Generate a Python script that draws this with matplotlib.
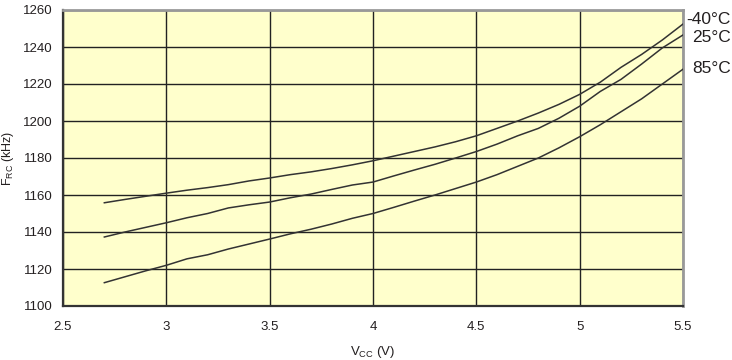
import matplotlib
matplotlib.use("Agg")
import matplotlib.pyplot as plt

plt.rcParams['font.family'] = ['Liberation Sans', 'DejaVu Sans']
plt.rcParams['mathtext.fontset'] = 'custom'
plt.rcParams['mathtext.rm'] = 'Liberation Sans'
plt.rcParams['mathtext.it'] = 'Liberation Sans'
plt.rcParams['mathtext.default'] = 'regular'

vcc = [2.7, 2.8, 2.9, 3.0, 3.1, 3.2, 3.3, 3.4, 3.5, 3.6, 3.7, 3.8, 3.9, 4.0,
       4.1, 4.2, 4.3, 4.4, 4.5, 4.6, 4.7, 4.8, 4.9, 5.0, 5.1, 5.2, 5.3, 5.4, 5.5]
f_m40 = [1155.8, 1157.6, 1159.3, 1161.0, 1162.6, 1164.0, 1165.6, 1167.6, 1169.2,
         1171.0, 1172.5, 1174.3, 1176.3, 1178.5, 1181.0, 1183.5, 1186.0, 1188.8,
         1192.0, 1196.0, 1200.0, 1204.3, 1209.0, 1214.4, 1221.0, 1229.0, 1236.0,
         1243.8, 1252.4]
f_25 = [1137.3, 1140.0, 1142.5, 1145.0, 1147.7, 1150.0, 1153.0, 1154.7, 1156.2,
        1158.5, 1160.5, 1163.0, 1165.4, 1167.0, 1170.3, 1173.5, 1176.6, 1180.0,
        1183.5, 1187.5, 1192.0, 1196.0, 1201.5, 1208.0, 1216.0, 1222.5, 1230.8,
        1239.5, 1246.5]
f_85 = [1112.6, 1115.8, 1119.0, 1122.0, 1125.5, 1127.7, 1130.8, 1133.5, 1136.2,
        1139.0, 1141.5, 1144.3, 1147.4, 1150.0, 1153.3, 1156.7, 1160.0, 1163.5,
        1167.0, 1171.0, 1175.5, 1180.0, 1185.5, 1191.5, 1198.0, 1205.0, 1212.0,
        1220.0, 1228.0]
series_labels = ['-40°C', '25°C', '85°C']
x_ticks = [2.5, 3, 3.5, 4, 4.5, 5, 5.5]
x_ticklabels = ['2.5', '3', '3.5', '4', '4.5', '5', '5.5']
y_ticks = [1100, 1120, 1140, 1160, 1180, 1200, 1220, 1240, 1260]

txt = '#231f20'
fig = plt.figure(figsize=(7.32, 3.6), dpi=100)
ax = fig.add_axes([63/732, 1 - 306/360, (683 - 63)/732, (306 - 10)/360])
ax.set_facecolor('#ffffcc')

for ys in (f_m40, f_25, f_85):
    ax.plot(vcc, ys, color='#333333', lw=1.1, zorder=3)

ax.set_xlim(2.5, 5.5)
ax.set_ylim(1100, 1260)
ax.set_xticks(x_ticks)
ax.set_xticklabels(x_ticklabels)
ax.set_yticks(y_ticks)
ax.grid(True, color='#222222', lw=1.0)
ax.tick_params(length=0, labelsize=9.5, colors=txt)
ax.tick_params(axis='y', pad=7.5)
ax.tick_params(axis='x', pad=10.5)

for s in ('left', 'bottom'):
    ax.spines[s].set_color('#333333')
    ax.spines[s].set_linewidth(1.6)
for s in ('top', 'right'):
    ax.spines[s].set_color('#999999')
    ax.spines[s].set_linewidth(2.0)

ax.set_ylabel(r'F$_{RC}$ (kHz)', fontsize=9, color=txt, labelpad=5)
ax.set_xlabel(r'V$_{CC}$ (V)', fontsize=9.5, color=txt, labelpad=8)

label_y = [1255, 1245, 1228.6]
label_x = [5.515, 5.545, 5.545]
for lx, ly, lab in zip(label_x, label_y, series_labels):
    ax.text(lx, ly, lab, fontsize=12.5, color=txt, ha='left', va='center',
            clip_on=False)

fig.savefig('out.png', dpi=100)
